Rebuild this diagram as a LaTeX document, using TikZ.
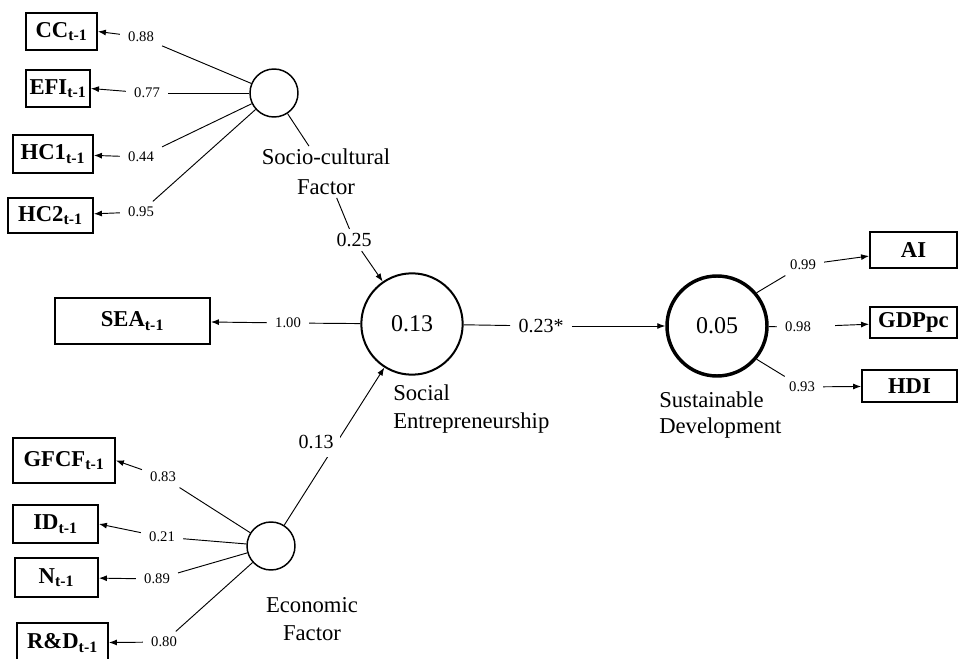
\documentclass[tikz,border=0pt]{standalone}
\usepackage{fontspec}
\setmainfont{Liberation Serif}
\usetikzlibrary{arrows.meta}
\newcommand{\tm}{\textsubscript{t-1}}
\begin{document}
\begin{tikzpicture}[x=0.75pt,y=-0.75pt,
  box/.style={draw, line width=1.4pt, inner sep=0pt, font=\bfseries\fontsize{17}{20}\selectfont},
  lv/.style={circle, draw, inner sep=0pt},
  ld/.style={font=\fontsize{11}{13}\selectfont, inner xsep=6pt, inner ysep=4pt},
  pl/.style={font=\fontsize{15}{18}\selectfont, inner xsep=6pt, inner ysep=3pt},
  nm/.style={font=\fontsize{17}{21}\selectfont, inner sep=2pt},
  con/.style={line width=0.7pt},
  arr/.style={line width=0.7pt, -{Latex[length=6pt,width=4.5pt]}},
]
\useasboundingbox (0,0) rectangle (958,659);

% latent variables
\node[lv, minimum size=36pt, line width=1.1pt] (soc) at (274,93) {};
\node[lv, minimum size=36pt, line width=1.1pt] (eco) at (271,546) {};
\node[lv, minimum size=76pt, line width=1.5pt, font=\fontsize{18}{20}\selectfont] (se) at (412,324) {0.13};
\node[lv, minimum size=75pt, line width=2.6pt, font=\fontsize{18}{20}\selectfont] (sd) at (717,326) {0.05};

% indicator boxes
\node[box, minimum width=53.25pt, minimum height=27.75pt] (cc) at (61.5,31.5) {CC\tm};
\node[box, minimum width=48pt, minimum height=27.75pt] (efi) at (58,88.5) {EFI\tm};
\node[box, minimum width=60pt, minimum height=28.5pt] (hc1) at (53,154) {HC1\tm};
\node[box, minimum width=63.75pt, minimum height=26.25pt] (hc2) at (50.5,215.5) {HC2\tm};
\node[box, minimum width=116.25pt, minimum height=34.5pt] (sea) at (132.5,321) {SEA\tm};
\node[box, minimum width=76.5pt, minimum height=33.75pt] (gfcf) at (64,460.5) {GFCF\tm};
\node[box, minimum width=63.75pt, minimum height=28.5pt] (id) at (55.5,524) {ID\tm};
\node[box, minimum width=62.25pt, minimum height=29.25pt] (n) at (56.5,577.5) {N\tm};
\node[box, minimum width=68.25pt, minimum height=30pt] (rd) at (62.5,643) {R\&D\tm};
\node[box, minimum width=65.25pt, minimum height=27pt] (ai) at (913.5,250) {AI};
\node[box, minimum width=65.25pt, minimum height=23.25pt] (gdp) at (913.5,322.5) {GDPpc};
\node[box, minimum width=71.25pt, minimum height=24pt] (hdi) at (909.5,386) {HDI};

% names of the latent variables
\node[nm, align=center, font=\fontsize{17}{22.5}\selectfont] (socl) at (326,172) {Socio-cultural\\Factor};
\node[nm, align=center] (ecol) at (312,619) {Economic\\Factor};
\node[nm, align=left, anchor=west, inner sep=0pt] (sel) at (393,409) {Social\\Entrepreneurship};
\node[nm, align=left, anchor=west, inner sep=0pt, font=\fontsize{17}{19.5}\selectfont] (sdl) at (659,415) {Sustainable\\Development};

% loading labels
\node[ld] (l88) at (141,37) {0.88};
\node[ld] (l77) at (147,93) {0.77};
\node[ld] (l44) at (141,157) {0.44};
\node[ld] (l95) at (141,212) {0.95};
\node[ld] (l100) at (288,323) {1.00};
\node[ld] (l83) at (163,477) {0.83};
\node[ld] (l21) at (162,537) {0.21};
\node[ld] (l89) at (157,579) {0.89};
\node[ld] (l80) at (164,642) {0.80};
\node[ld] (l99) at (803,265) {0.99};
\node[ld] (l98) at (798,327) {0.98};
\node[ld] (l93) at (802,387) {0.93};

% path labels
\node[pl] (l25) at (354,240) {0.25};
\node[pl] (l23) at (541,326) {0.23*};

% connectors: socio-cultural factor
\draw[con] (soc) -- (l88); \draw[arr] (l88) -- (cc.east);
\draw[con] (soc) -- (l77); \draw[arr] (l77) -- (efi.east);
\draw[con] (soc) -- (l44); \draw[arr] (l44) -- (hc1);
\draw[con] (soc) -- (l95); \draw[arr] (l95) -- (hc2);
% social entrepreneurship
\draw[con] (se) -- (l100); \draw[arr] (l100) -- (sea);
% economic factor
\draw[con] (eco) -- (l83); \draw[arr] (l83) -- (gfcf.east);
\draw[con] (eco) -- (l21); \draw[arr] (l21) -- (id.east);
\draw[con] (eco) -- (l89); \draw[arr] (l89) -- (n);
\draw[con] (eco) -- (l80); \draw[arr] (l80) -- (rd);
% sustainable development
\draw[con] (sd.40) -- (l99); \draw[arr] (l99) -- (ai);
\draw[con] (sd) -- (l98); \draw[arr, shorten <=12pt] (l98) -- (gdp);
\draw[con] (sd.-40) -- (l93); \draw[arr] (l93) -- (hdi);
% structural paths
\draw[con] (soc) -- (socl); \draw[con] (socl) -- (l25); \draw[arr] (l25) -- (se);
\draw[arr] (eco) -- (se);
\node[pl, fill=white, inner xsep=5pt, inner ysep=6pt] (l13) at (316,442) {0.13};
\draw[con] (se) -- (l23); \draw[arr] (l23) -- (sd);
\end{tikzpicture}
\end{document}
